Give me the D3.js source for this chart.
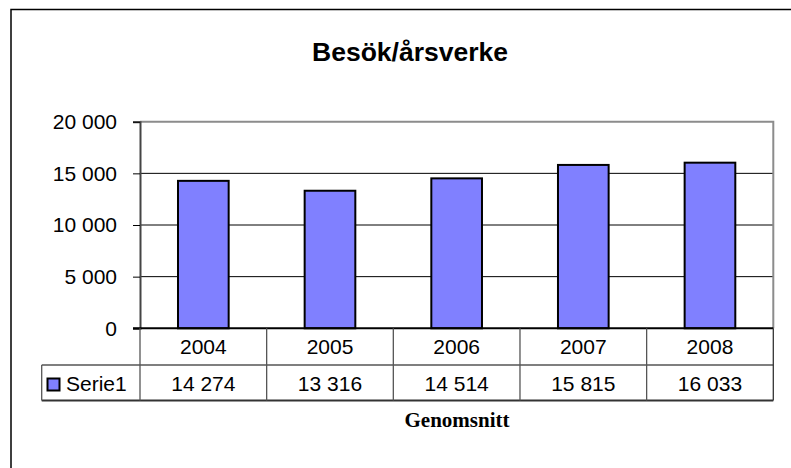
<!DOCTYPE html>
<html><head><meta charset="utf-8">
<script src="https://cdn.jsdelivr.net/npm/d3@7"></script>
<style>body{margin:0;background:#fff}svg{display:block}</style>
</head><body>
<svg id="c" width="791" height="468"></svg>
<script>
const title = "Besök/årsverke";
const categories = ["2004","2005","2006","2007","2008"];
const values = [14274, 13316, 14514, 15815, 16033];
const seriesName = "Serie1";
const yTicks = [0, 5000, 10000, 15000, 20000];
const xTitle = "Genomsnitt";

const svg = d3.select("#c");
const loc = d3.formatLocale({decimal: ",", thousands: " ", grouping: [3], currency: ["", ""]});
const fmt = loc.format(",d");

const L = 140, R = 773.3, T = 121.7, B = 328.3;
const row1 = 365, row2 = 400.5, legL = 41.7;
const sans = "Liberation Sans, Arial, sans-serif";

// outer frame
svg.append("rect").attr("x", 11).attr("y", 9.5).attr("width", 900).attr("height", 600)
  .attr("fill", "none").attr("stroke", "#000").attr("stroke-width", 1.5);

svg.append("text").attr("x", 410).attr("y", 61).attr("text-anchor", "middle")
  .attr("font-family", sans).attr("font-weight", "bold").attr("font-size", 26.5).text(title);

const x = d3.scaleBand().domain(categories).range([L, R]).paddingInner(0).paddingOuter(0);
const y = d3.scaleLinear().domain([0, 20000]).range([B, T]);

// gridlines
svg.append("g").selectAll("line").data(yTicks.filter(t => t > 0 && t < 20000)).join("line")
  .attr("x1", L).attr("x2", R).attr("y1", d => y(d)).attr("y2", d => y(d))
  .attr("stroke", "#000").attr("stroke-width", 1);

// plot border top/right
svg.append("path").attr("d", `M${L},${T}H${R}V${B}`).attr("fill", "none")
  .attr("stroke", "#8c8c8c").attr("stroke-width", 2);

// bars
svg.append("g").selectAll("rect").data(categories).join("rect")
  .attr("x", d => x(d) + x.bandwidth() * 0.3)
  .attr("width", x.bandwidth() * 0.4)
  .attr("y", (d, i) => y(values[i]))
  .attr("height", (d, i) => B - y(values[i]))
  .attr("fill", "#8080ff").attr("stroke", "#000").attr("stroke-width", 2);

// y axis
const yAxis = d3.axisLeft(y).tickValues(yTicks).tickSize(7).tickPadding(16).tickFormat(fmt);
const ga = svg.append("g").attr("transform", `translate(${L},0)`).call(yAxis);
ga.select(".domain").attr("stroke", "#444").attr("stroke-width", 2);
ga.selectAll(".tick line").attr("stroke", "#000");
ga.selectAll(".tick text").attr("font-family", sans).attr("font-size", 21).attr("fill", "#000");

// baseline
svg.append("line").attr("x1", L - 7).attr("x2", R).attr("y1", B).attr("y2", B)
  .attr("stroke", "#000").attr("stroke-width", 2);

// data table
const tg = svg.append("g").attr("stroke", "#555").attr("stroke-width", 1.3).attr("fill", "none");
tg.append("line").attr("x1", legL).attr("x2", R).attr("y1", row1).attr("y2", row1);
tg.append("line").attr("x1", legL).attr("x2", R).attr("y1", row2).attr("y2", row2).attr("stroke", "#333").attr("stroke-width", 1.8);
tg.append("line").attr("x1", legL).attr("x2", legL).attr("y1", row1).attr("y2", row2);
tg.selectAll("line.v").data(categories.concat(["end"])).join("line").attr("class", "v")
  .attr("x1", d => d === "end" ? R : x(d)).attr("x2", d => d === "end" ? R : x(d))
  .attr("y1", B).attr("y2", row2)
  .attr("stroke", d => d === "end" ? "#333" : "#555");

svg.append("g").selectAll("text").data(categories).join("text")
  .attr("x", d => x(d) + x.bandwidth() / 2).attr("y", 354).attr("text-anchor", "middle")
  .attr("font-family", sans).attr("font-size", 21).text(d => d);
svg.append("g").selectAll("text").data(values).join("text")
  .attr("x", (d, i) => x(categories[i]) + x.bandwidth() / 2).attr("y", 391).attr("text-anchor", "middle")
  .attr("font-family", sans).attr("font-size", 21).text(d => fmt(d));

// legend key
svg.append("rect").attr("x", 47.5).attr("y", 378.5).attr("width", 12).attr("height", 12)
  .attr("fill", "#8080ff").attr("stroke", "#000").attr("stroke-width", 2);
svg.append("text").attr("x", 66).attr("y", 391).attr("font-family", sans).attr("font-size", 21).text(seriesName);

// x title
svg.append("text").attr("x", 457).attr("y", 427).attr("text-anchor", "middle")
  .attr("font-family", "Liberation Serif, Times New Roman, serif").attr("font-weight", "bold")
  .attr("font-size", 21).text(xTitle);
</script>
</body></html>
